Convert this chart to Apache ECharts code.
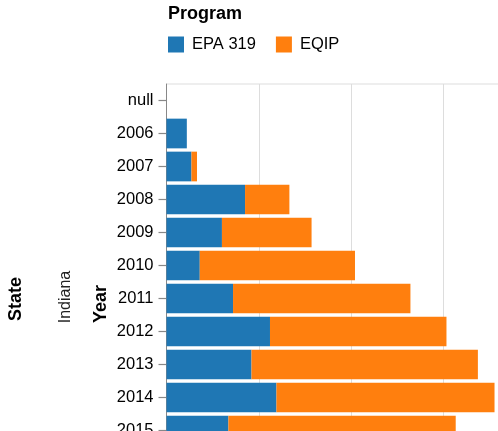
<!DOCTYPE html>
<html>
<head>
<meta charset="utf-8">
<script src="https://cdn.jsdelivr.net/npm/echarts@6/dist/echarts.min.js"></script>
<style>
  html, body { margin: 0; padding: 0; background: #fff; }
  #chart { width: 498px; height: 431px; }
</style>
</head>
<body>
<div id="chart"></div>
<script>
// years on the band axis (top to bottom)
const years = ["null", "2006", "2007", "2008", "2009", "2010", "2011", "2012", "2013", "2014", "2015"];
// stacked amounts per program
const epa319 = ["-", 22, 27, 85, 60, 36, 72, 112, 92, 119, 67];
const eqip = ["-", 0, 6, 48, 97, 168, 192, 191, 245, 236, 246];
const valueTicks = [0, 100, 200, 300, 400];

const font = "Liberation Sans, Arial, Helvetica, sans-serif";

document.addEventListener("DOMContentLoaded", function () {
  const chart = echarts.init(document.getElementById("chart"));
  const option = {
    animation: false,
    textStyle: { fontFamily: font },
    title: {
      text: "Program",
      left: 168,
      top: 5,
      padding: 0,
      textStyle: { fontSize: 18, fontWeight: "bold", color: "#000", fontFamily: font },
    },
    legend: {
      left: 168,
      top: 36,
      padding: 0,
      icon: "rect",
      itemWidth: 16,
      itemHeight: 16,
      itemGap: 20,
      textStyle: { fontSize: 16.5, color: "#000", fontFamily: font, padding: [0, 0, 0, 3] },
      data: ["EPA 319", "EQIP"],
    },
    grid: {
      left: 166.5,
      top: 84,
      width: 369.6,
      height: 363,
      outerBoundsMode: "none",
      show: true,
      borderColor: "#ddd",
      borderWidth: 1,
      backgroundColor: "transparent",
    },
    xAxis: {
      type: "value",
      min: valueTicks[0],
      max: valueTicks[valueTicks.length - 1],
      interval: valueTicks[1] - valueTicks[0],
      axisLine: { show: false },
      axisTick: { show: false },
      axisLabel: { show: false },
      splitLine: { lineStyle: { color: "#ddd", width: 1 } },
    },
    yAxis: {
      type: "category",
      inverse: true,
      data: years,
      axisLine: { show: true, lineStyle: { color: "#888", width: 1 } },
      axisTick: { show: true, alignWithLabel: true, length: 8, lineStyle: { color: "#888", width: 1.2 } },
      axisLabel: { fontSize: 16.5, color: "#000", margin: 13, fontFamily: font },
      splitLine: { show: false },
    },
    graphic: [
      {
        type: "text",
        x: 16,
        y: 299,
        rotation: Math.PI / 2,
        style: { text: "State", font: "bold 18px " + font, fill: "#000", align: "center", verticalAlign: "middle" },
      },
      {
        type: "text",
        x: 66,
        y: 297,
        rotation: Math.PI / 2,
        style: { text: "Indiana", font: "16px " + font, fill: "#222", align: "center", verticalAlign: "middle" },
      },
      {
        type: "text",
        x: 101,
        y: 304,
        rotation: Math.PI / 2,
        style: { text: "Year", font: "bold 18px " + font, fill: "#000", align: "center", verticalAlign: "middle" },
      },
    ],
    series: [
      {
        name: "EPA 319",
        type: "bar",
        stack: "total",
        barWidth: 29.7,
        data: epa319,
        itemStyle: { color: "#1f77b4" },
      },
      {
        name: "EQIP",
        type: "bar",
        stack: "total",
        barWidth: 29.7,
        data: eqip,
        itemStyle: { color: "#ff7f0e" },
      },
    ],
  };
  chart.setOption(option);
  window.addEventListener("resize", function () {
    chart.resize();
  });
});
</script>
</body>
</html>
